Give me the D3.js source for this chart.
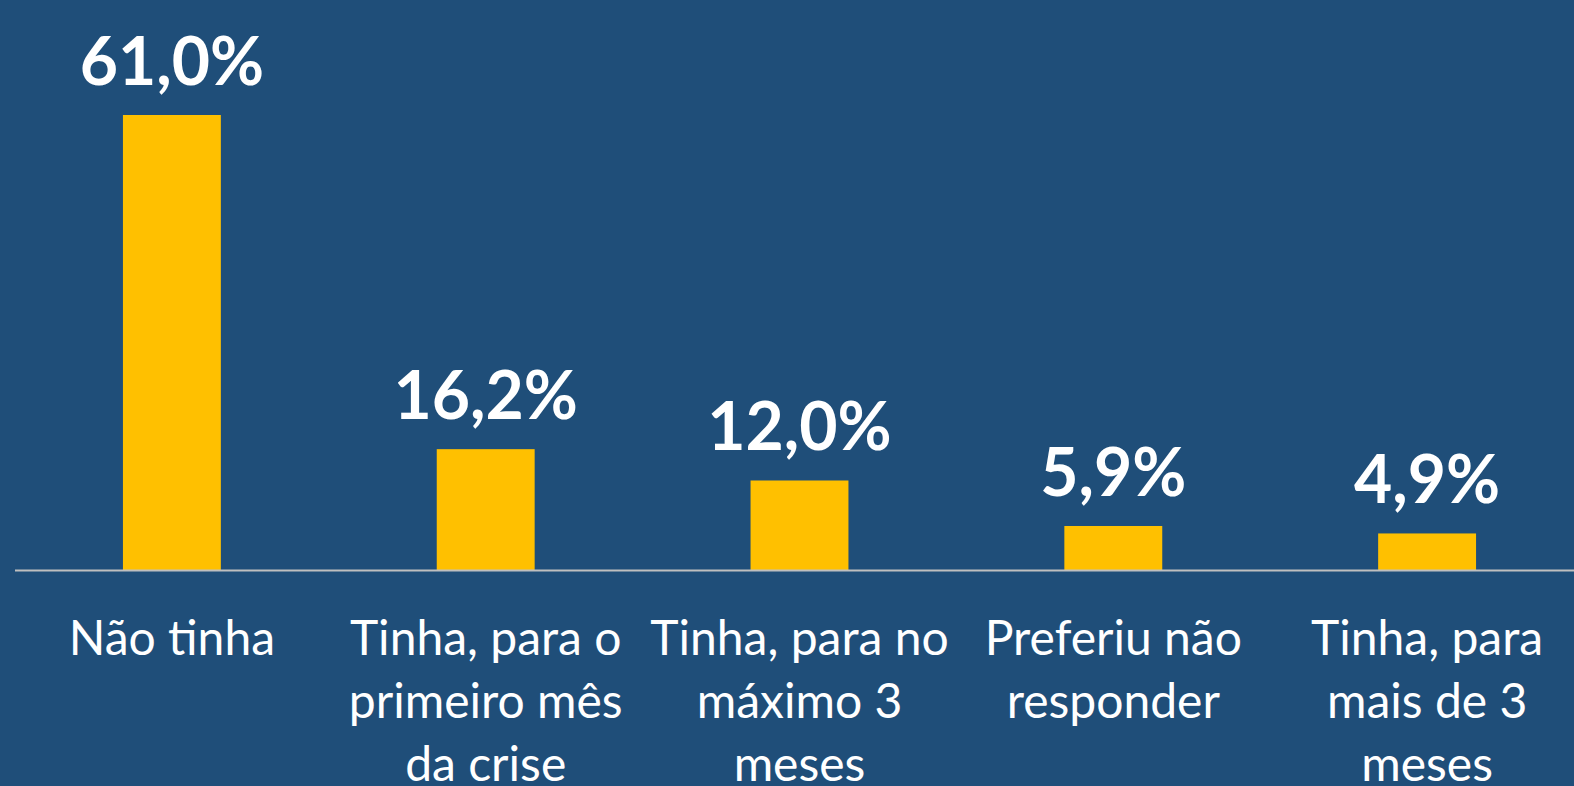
<!DOCTYPE html>
<html><head><meta charset="utf-8">
<script src="https://cdn.jsdelivr.net/npm/d3@7"></script>
<style>
html,body{margin:0;padding:0;background:#1F4E79;overflow:hidden}
svg{display:block}
</style></head>
<body>
<script>
const categories = ["Não tinha", "Tinha, para o\nprimeiro mês\nda crise", "Tinha, para no\nmáximo 3\nmeses", "Preferiu não\nresponder", "Tinha, para\nmais de 3\nmeses"];
const values = [61.0, 16.2, 12.0, 5.9, 4.9];
const valueLabels = ["61,0%", "16,2%", "12,0%", "5,9%", "4,9%"];

const W = 1574, H = 786;
const svg = d3.select("body").append("svg").attr("width", W).attr("height", H);
svg.append("rect").attr("width", W).attr("height", H).attr("fill", "#1F4E79");

const x = d3.scaleBand().domain(categories).range([15, 1584]).paddingInner(0.688).paddingOuter(0.344);
const y = d3.scaleLinear().domain([0, 61.0]).range([570, 115]);

svg.selectAll("rect.bar").data(values).join("rect").attr("class", "bar")
  .attr("x", (d, i) => x(categories[i]))
  .attr("width", x.bandwidth())
  .attr("y", d => y(d))
  .attr("height", d => y(0) - y(d))
  .attr("fill", "#FFC000");

const axis = svg.append("g").attr("transform", `translate(0,${y(0)})`)
  .call(d3.axisBottom(x).tickSize(0).tickFormat(""));
axis.select(".domain").attr("stroke", "#BFBFBF").attr("stroke-width", 2).attr("d", "M15,0.5H1574");

svg.selectAll("text.val").data(values).join("text").attr("class", "val")
  .attr("x", (d, i) => x(categories[i]) + x.bandwidth() / 2)
  .attr("y", d => y(d) - 30)
  .attr("text-anchor", "middle")
  .attr("fill", "#FFFFFF")
  .attr("font-family", "Lato, 'Open Sans', sans-serif")
  .attr("font-weight", "bold")
  .attr("font-size", 66)
  .text((d, i) => valueLabels[i]);

const lab = svg.selectAll("text.cat").data(categories).join("text").attr("class", "cat")
  .attr("x", d => x(d) + x.bandwidth() / 2)
  .attr("y", 655)
  .attr("text-anchor", "middle")
  .attr("fill", "#FFFFFF")
  .attr("font-family", "Lato, 'Open Sans', sans-serif")
  .attr("font-size", 48);
lab.each(function(d) {
  const t = d3.select(this);
  d.split("\n").forEach((line, k) => {
    t.append("tspan").attr("x", x(d) + x.bandwidth() / 2).attr("dy", k === 0 ? 0 : 63).text(line);
  });
});
</script>
</body></html>
